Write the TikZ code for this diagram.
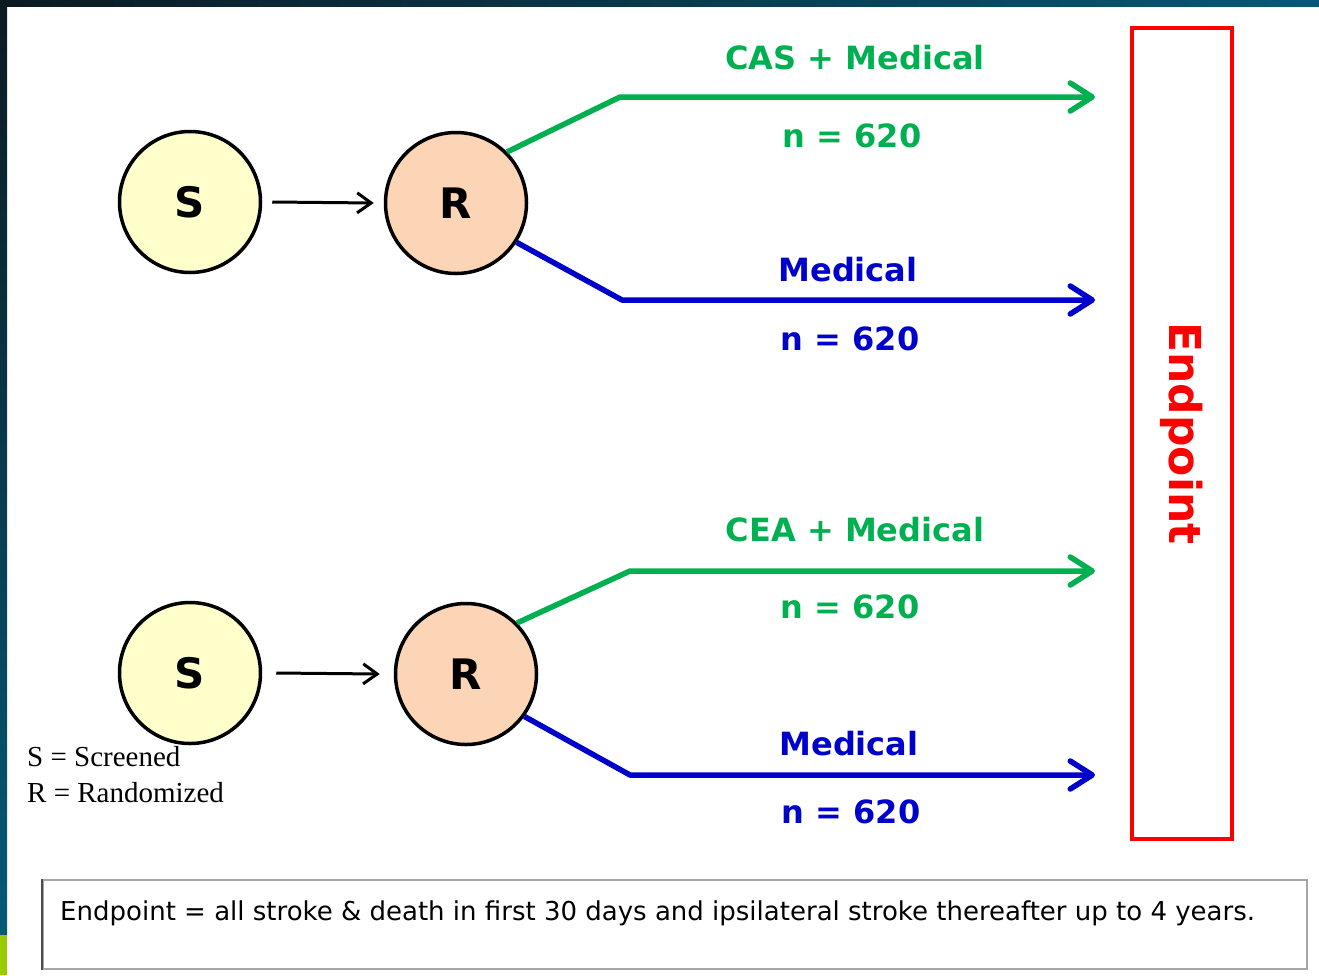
\documentclass[tikz,border=0pt]{standalone}
\usepackage{fontspec}
\setmainfont{Liberation Serif}
\newfontfamily\armfont{DejaVu Sans}
\usetikzlibrary{arrows.meta}

\definecolor{armgreen}{RGB}{0,176,80}
\definecolor{armblue}{RGB}{0,0,204}
\definecolor{sfill}{RGB}{255,255,204}
\definecolor{rfill}{RGB}{251,213,181}
\definecolor{edgedark}{RGB}{12,26,34}
\definecolor{edgeteal}{RGB}{6,90,120}
\definecolor{edgelime}{RGB}{153,204,0}

\tikzset{
  stage/.style={circle,draw=black,line width=3.5pt,minimum size=141pt,inner sep=0pt,
    font=\armfont\bfseries\fontsize{42}{42}\selectfont},
  screen/.style={stage,fill=sfill},
  rand/.style={stage,fill=rfill},
  feed/.style={line width=3pt,-{Straight Barb[length=14pt,width=20pt]}},
  arm/.style={line width=5.5pt,line join=round,-{Straight Barb[round,length=22pt,width=28pt]}},
  armlabel/.style={inner sep=0pt,font=\armfont\bfseries\fontsize{32}{32}\selectfont},
  legend/.style={inner sep=0pt,anchor=base west,font=\fontsize{29}{29}\selectfont}
}

\begin{document}
\begin{tikzpicture}[x=1pt,y=-1pt]
\useasboundingbox (0,0) rectangle (1319,975);
\fill[left color=edgedark,right color=edgeteal] (0,0) rectangle (1319,6);
\fill[top color=edgedark,bottom color=edgeteal] (0,0) rectangle (7,935);
\fill[edgelime] (0,935) rectangle (7,975);

% first trial
\node[screen] (s1) at (190,202) {S};
\node[rand] (r1) at (456,203) {R};
\draw[feed] ([xshift=10pt]s1.east) -- ([xshift=-10pt]r1.west);
\coordinate (g1) at (620,97);
\coordinate (g1end) at (1095,97);
\coordinate (b1) at (622,300);
\coordinate (b1end) at (1095,300);
\draw[arm,armgreen] (r1.45) -- (g1) -- (g1end);
\draw[arm,armblue] (r1.-33) -- (b1) -- (b1end);
\node[armlabel,text=armgreen] (cas) at (855,58) {CAS + Medical};
\node[armlabel,text=armgreen] (ncas) at (852,136) {n = 620};
\node[armlabel,text=armblue] (med1) at (848,270) {Medical};
\node[armlabel,text=armblue] (nmed1) at (850,339) {n = 620};

% second trial
\node[screen] (s2) at (190,673) {S};
\node[rand] (r2) at (466,674) {R};
\draw[feed] ([xshift=14pt]s2.east) -- ([xshift=-14pt]r2.west);
\coordinate (g2) at (630,571);
\coordinate (g2end) at (1095,571);
\coordinate (b2) at (630,775);
\coordinate (b2end) at (1095,775);
\draw[arm,armgreen] (r2.45) -- (g2) -- (g2end);
\draw[arm,armblue] (r2.-36) -- (b2) -- (b2end);
\node[armlabel,text=armgreen] (cea) at (855,530) {CEA + Medical};
\node[armlabel,text=armgreen] (ncea) at (850,607) {n = 620};
\node[armlabel,text=armblue] (med2) at (849,744) {Medical};
\node[armlabel,text=armblue] (nmed2) at (851,812) {n = 620};

\node[draw=red,line width=4pt,rotate=-90,minimum width=811pt,minimum height=100pt,
  text=red,font=\armfont\bfseries\fontsize{44}{44}\selectfont] (endbox) at (1182,433.5) {Endpoint};

\node[legend] (slegend) at (27,766) {S = Screened};
\node[legend] (rlegend) at (27,802) {R = Randomized};

\node[draw=gray!70,line width=2pt,anchor=north west,minimum width=1264pt,minimum height=89pt] (note) at (42,879) {};
\draw[line width=2pt,black!70] (note.north west) -- (note.south west);
\node[anchor=west,inner sep=0pt,font=\armfont\fontsize{26}{26}\selectfont] (notetext) at (60,913)
  {Endpoint = all stroke \& death in first 30 days and ipsilateral stroke thereafter up to 4 years.};
\end{tikzpicture}
\end{document}
